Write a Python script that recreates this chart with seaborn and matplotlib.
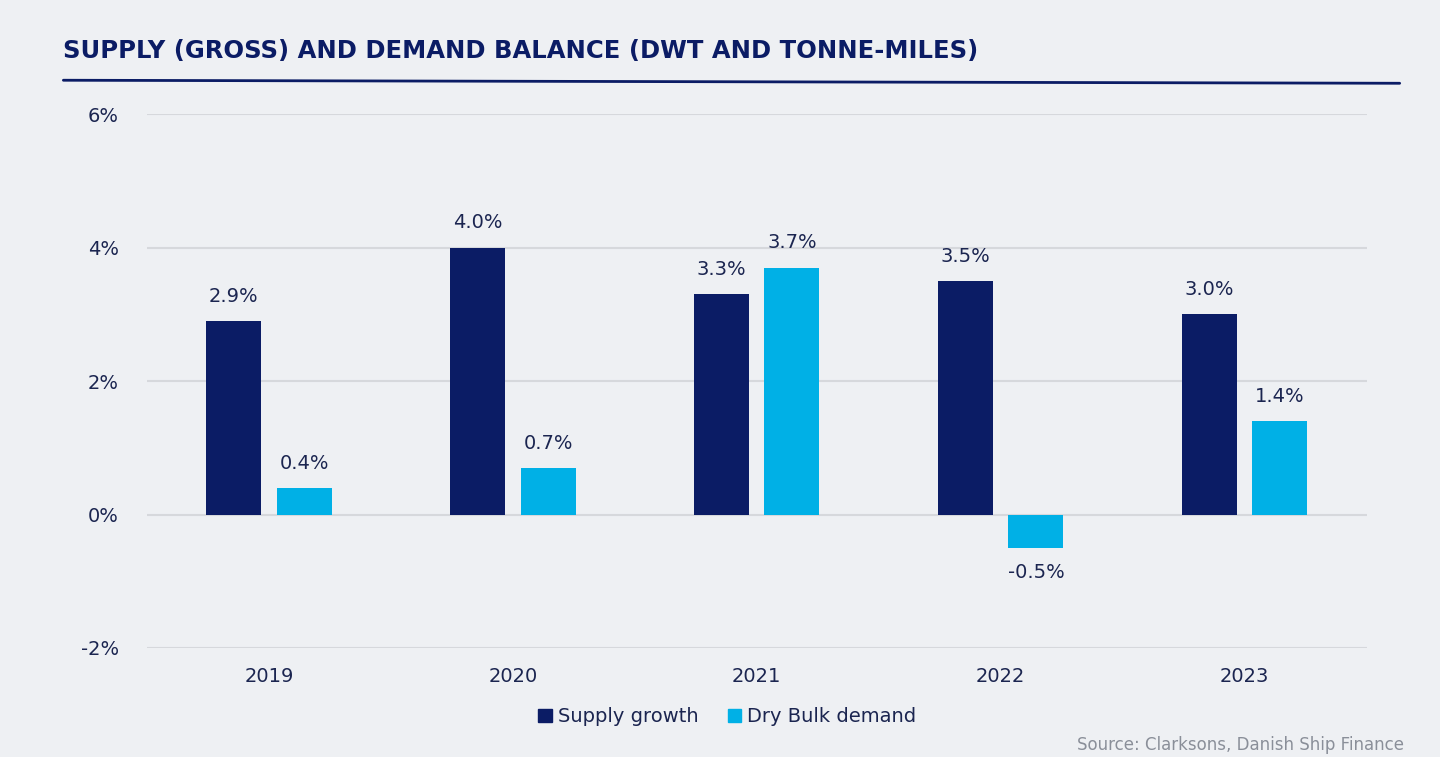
import pandas as pd
import matplotlib.pyplot as plt
import seaborn as sns
from matplotlib.lines import Line2D
from matplotlib.ticker import FuncFormatter

years = ["2019", "2020", "2021", "2022", "2023"]
supply_growth = [2.9, 4.0, 3.3, 3.5, 3.0]
dry_bulk_demand = [0.4, 0.7, 3.7, -0.5, 1.4]
series_names = ["Supply growth", "Dry Bulk demand"]

BG = "#eef0f3"
NAVY = "#0b1c65"
CYAN = "#00b0e6"
TEXT = "#1b2550"

df = pd.DataFrame({
    "year": years * 2,
    "value": supply_growth + dry_bulk_demand,
    "series": [series_names[0]] * len(years) + [series_names[1]] * len(years),
})

sns.set_style("white")
plt.rcParams["font.family"] = ["DejaVu Sans"]

fig = plt.figure(figsize=(14.4, 7.57), dpi=100, facecolor=BG)
ax = fig.add_axes([0.102, 0.144, 0.847, 0.705])
ax.set_facecolor(BG)

sns.barplot(data=df, x="year", y="value", hue="series", order=years,
            hue_order=series_names, palette=[NAVY, CYAN], width=0.578,
            gap=0.22, saturation=1, legend=False, linewidth=0, ax=ax)

for cont in ax.containers:
    labels = [f"{v:.1f}%" for v in cont.datavalues]
    ax.bar_label(cont, labels=labels, padding=11, fontsize=14, color=TEXT)

ax.set_ylim(-2, 6)
ax.set_yticks([-2, 0, 2, 4, 6])
ax.yaxis.set_major_formatter(FuncFormatter(lambda v, p: f"{v:.0f}%"))
ax.grid(axis="y", color="#d6d8dc", linewidth=1.5)
ax.set_axisbelow(True)
for s in ax.spines.values():
    s.set_visible(False)
ax.tick_params(axis="both", length=0, labelsize=14, labelcolor=TEXT)
ax.tick_params(axis="y", pad=20)
ax.tick_params(axis="x", pad=14)
ax.set_xlabel("")
ax.set_ylabel("")

fig.text(0.044, 0.933, "SUPPLY (GROSS) AND DEMAND BALANCE (DWT AND TONNE-MILES)",
         fontsize=17.5, fontweight="bold", color=NAVY, va="center")
fig.add_artist(Line2D([0.044, 0.972], [0.894, 0.890], color=NAVY, linewidth=2,
                      transform=fig.transFigure))

handles = [plt.Rectangle((0, 0), 1, 1, color=c) for c in [NAVY, CYAN]]
fig.legend(handles, series_names, loc="center", bbox_to_anchor=(0.505, 0.053),
           ncol=2, frameon=False, fontsize=14, handlelength=0.7, handleheight=0.7,
           handletextpad=0.3, columnspacing=1.5, labelcolor=TEXT)

fig.text(0.975, 0.004, "Source: Clarksons, Danish Ship Finance", fontsize=12,
         color="#8a8f99", ha="right", va="bottom")

fig.savefig("out.png", dpi=100, facecolor=BG)
